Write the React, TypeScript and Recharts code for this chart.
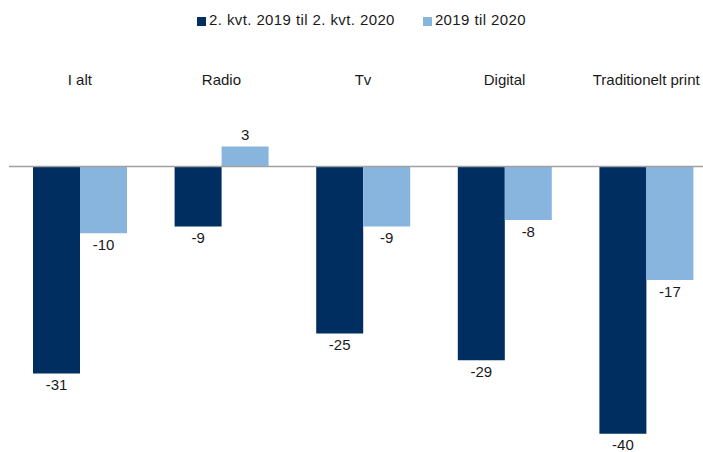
import { Bar, BarChart, LabelList, ReferenceLine, XAxis, YAxis } from "recharts";

const categories = ["I alt", "Radio", "Tv", "Digital", "Traditionelt print"];
const quarterChange = [-31, -9, -25, -29, -40];
const yearChange = [-10, 3, -9, -8, -17];
const seriesNames = ["2. kvt. 2019 til 2. kvt. 2020", "2019 til 2020"];

const DARK = "#012e60";
const LIGHT = "#88b5dd";
const INK = "#1a1a1a";
const FONT = "'Liberation Sans', Arial, sans-serif";

const data = categories.map((c, i) => ({
  name: c,
  q: quarterChange[i],
  y: yearChange[i],
}));

export default function App() {
  return (
    <div
      style={{
        position: "absolute",
        left: 0,
        top: 0,
        width: 703,
        height: 452,
        overflow: "hidden",
        background: "#fff",
        fontFamily: FONT,
      }}
    >
      {/* legend drawn as plain html so it doesn't eat into the plot offset */}
      <div
        style={{
          position: "absolute",
          left: 197,
          top: 12,
          display: "flex",
          alignItems: "center",
          fontSize: 15,
          lineHeight: "16px",
          color: INK,
          letterSpacing: 0.4,
          whiteSpace: "nowrap",
        }}
      >
        {seriesNames.map((n, i) => (
          <div key={n} style={{ display: "flex", alignItems: "center", marginRight: i === 0 ? 28 : 0 }}>
            <span
              style={{
                width: 9,
                height: 9,
                marginTop: 3,
                marginRight: 3,
                background: i === 0 ? DARK : LIGHT,
                display: "inline-block",
              }}
            />
            <span>{n}</span>
          </div>
        ))}
      </div>
      <BarChart
        width={720}
        height={452}
        data={data}
        margin={{ top: 0, right: 3, bottom: 5, left: 9 }}
        barGap={0}
        barSize={47}
      >
        <XAxis
          dataKey="name"
          orientation="top"
          height={113}
          axisLine={false}
          tickLine={false}
          tickSize={0}
          tickMargin={28}
          interval={0}
          tick={{ fill: INK, fontSize: 15, fontFamily: FONT }}
        />
        <YAxis hide domain={[-42, 8]} />
        <ReferenceLine y={0} stroke="#a0a0a0" strokeWidth={1.5} />
        <Bar dataKey="q" fill={DARK} isAnimationActive={false}>
          <LabelList dataKey="q" position="top" offset={6} fill={INK} fontSize={15} fontFamily={FONT} />
        </Bar>
        <Bar dataKey="y" fill={LIGHT} isAnimationActive={false}>
          <LabelList dataKey="y" position="top" offset={6} fill={INK} fontSize={15} fontFamily={FONT} />
        </Bar>
      </BarChart>
    </div>
  );
}
